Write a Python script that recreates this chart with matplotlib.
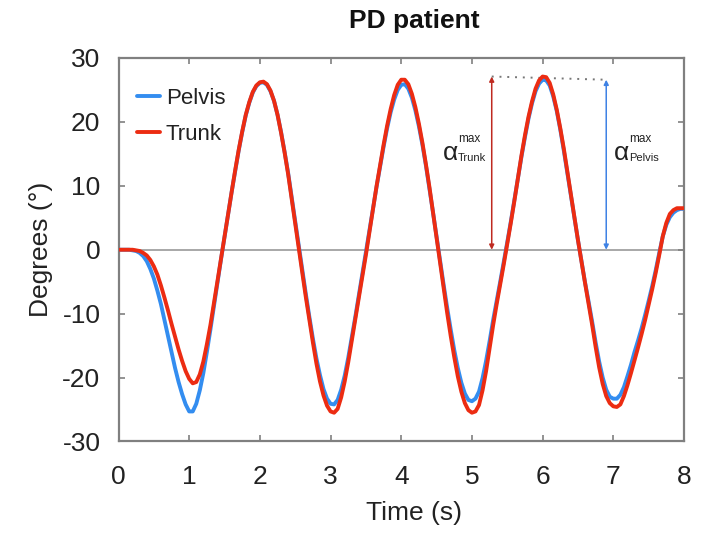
import numpy as np
import matplotlib
matplotlib.use("Agg")
import matplotlib.pyplot as plt

plt.rcParams['font.family'] = ['Liberation Sans', 'DejaVu Sans']

# Sampling grid (s)
time_s = np.linspace(0, 8, 161)

# Rotation angles (degrees) sampled every 0.05 s
pelvis_deg = [
    0.0, 0.0, 0.0, 0.0, -0.1, -0.2, -0.5, -1.0, -1.8, -3.0,
    -4.5, -6.4, -8.5, -11.0, -13.5, -16.0, -18.5, -20.7, -22.6, -24.2,
    -25.3, -25.3, -24.1, -22.0, -19.3, -16.0, -12.5, -8.8, -5.0, -1.5,
    2.0, 5.5, 9.0, 12.3, 15.5, 18.4, 21.0, 23.0, 24.6, 25.6,
    26.1, 26.2, 25.8, 24.8, 23.3, 21.1, 18.4, 15.3, 12.0, 8.2,
    4.3, 0.5, -3.2, -6.9, -10.5, -13.9, -17.0, -19.6, -21.8, -23.3,
    -24.1, -24.2, -23.5, -21.9, -19.7, -16.9, -13.7, -10.5, -7.1, -3.8,
    -0.4, 3.0, 6.5, 9.8, 13.0, 16.1, 19.0, 21.5, 23.5, 25.0,
    25.8, 25.9, 25.2, 23.8, 21.8, 19.3, 16.4, 13.1, 9.5, 5.8,
    2.0, -1.8, -5.5, -9.1, -12.5, -15.7, -18.5, -20.8, -22.5, -23.5,
    -23.7, -23.3, -22.2, -20.1, -17.4, -14.3, -11.0, -8.0, -5.0, -1.9,
    1.2, 4.4, 7.8, 11.2, 14.5, 17.6, 20.5, 22.9, 24.8, 26.0,
    26.6, 26.5, 25.7, 24.0, 21.7, 18.8, 15.5, 12.0, 8.5, 5.0,
    1.5, -1.8, -5.1, -8.1, -11.2, -14.5, -17.5, -20.0, -21.9, -23.0,
    -23.3, -23.3, -22.7, -21.5, -19.8, -18.0, -16.0, -14.2, -12.3, -10.2,
    -8.0, -5.7, -3.2, -0.5, 2.1, 3.9, 5.1, 5.8, 6.2, 6.4,
    6.4,
]
trunk_deg = [
    0.0, 0.0, 0.0, 0.0, 0.0, -0.1, -0.2, -0.5, -0.9, -1.6,
    -2.6, -3.9, -5.6, -7.5, -9.5, -11.6, -13.6, -15.6, -17.4, -19.0,
    -20.2, -20.9, -20.7, -19.5, -17.5, -14.8, -11.8, -8.4, -4.9, -1.4,
    2.0, 5.5, 9.0, 12.4, 15.6, 18.5, 21.1, 23.1, 24.7, 25.7,
    26.2, 26.3, 25.9, 24.9, 23.3, 21.1, 18.3, 15.2, 11.8, 8.0,
    4.1, 0.2, -3.6, -7.4, -11.0, -14.5, -17.8, -20.6, -22.8, -24.4,
    -25.3, -25.5, -24.9, -23.1, -20.6, -17.6, -14.2, -10.9, -7.5, -4.2,
    -0.8, 2.8, 6.4, 9.9, 13.2, 16.4, 19.4, 22.0, 24.2, 25.8,
    26.6, 26.6, 25.9, 24.4, 22.3, 19.7, 16.7, 13.3, 9.7, 5.8,
    1.9, -2.1, -6.0, -9.9, -13.5, -16.8, -19.8, -22.2, -24.0, -25.1,
    -25.5, -25.3, -24.3, -22.0, -19.0, -15.4, -11.8, -8.5, -5.4, -2.3,
    0.9, 4.2, 7.6, 11.2, 14.7, 17.9, 20.8, 23.2, 25.2, 26.5,
    27.1, 27.0, 26.1, 24.3, 21.9, 19.0, 15.8, 12.2, 8.6, 5.0,
    1.5, -1.9, -5.2, -8.4, -11.7, -15.2, -18.4, -21.0, -22.9, -24.0,
    -24.5, -24.6, -24.2, -22.9, -21.2, -19.3, -17.3, -15.3, -13.2, -11.0,
    -8.6, -6.2, -3.6, -0.8, 2.1, 4.2, 5.6, 6.2, 6.5, 6.5,
    6.5,
]

series_labels = ["Pelvis", "Trunk"]
x_ticks = [0, 1, 2, 3, 4, 5, 6, 7, 8]
y_ticks = [-30, -20, -10, 0, 10, 20, 30]

# Where the amplitude markers sit on the time axis
trunk_marker_t = 5.28
pelvis_marker_t = 6.9

blue = "#338df0"
red = "#ec2c12"
dark_red = "#bf2a20"
marker_blue = "#3f82e4"
frame_gray = "#808080"

fig = plt.figure(figsize=(7.05, 5.35), dpi=100)
ax = fig.add_axes([0.1681, 0.1748, 0.8021, 0.7168])

ax.axhline(0, color="#999999", lw=1.2, zorder=1)
ax.plot(time_s, pelvis_deg, color=blue, lw=2.8, label=series_labels[0],
        solid_joinstyle="round", solid_capstyle="round", zorder=3)
ax.plot(time_s, trunk_deg, color=red, lw=2.8, label=series_labels[1],
        solid_joinstyle="round", solid_capstyle="round", zorder=4)

trunk_max = max(trunk_deg)
pelvis_max = max(pelvis_deg)

# Double-headed amplitude arrows and the dotted link between their tops
ax.annotate("", xy=(trunk_marker_t, 0), xytext=(trunk_marker_t, trunk_max),
            arrowprops=dict(arrowstyle="<|-|>", color=dark_red, lw=1.1,
                            mutation_scale=7, shrinkA=0, shrinkB=0), zorder=2)
ax.annotate("", xy=(pelvis_marker_t, 0), xytext=(pelvis_marker_t, pelvis_max),
            arrowprops=dict(arrowstyle="<|-|>", color=marker_blue, lw=1.1,
                            mutation_scale=7, shrinkA=0, shrinkB=0), zorder=2)
ax.plot([trunk_marker_t, pelvis_marker_t], [trunk_max, pelvis_max],
        color="#777777", lw=1.4, ls=(0, (1, 3)), zorder=2)

# Amplitude labels
for tx, sub in [(4.59, "Trunk"), (7.01, "Pelvis")]:
    ax.text(tx, 14.0, "\u03b1", fontsize=19, color="#222222",
            ha="left", va="baseline")
    ax.text(tx + 0.215, 16.8, "max", fontsize=8.5, color="#222222",
            ha="left", va="baseline")
    ax.text(tx + 0.215, 13.9, sub, fontsize=8, color="#222222",
            ha="left", va="baseline")

ax.set_xlim(0, 8)
ax.set_ylim(-30, 30)
ax.set_xticks(x_ticks)
ax.set_yticks(y_ticks)
ax.set_xticklabels([str(v) for v in x_ticks])
ax.set_yticklabels([str(v) for v in y_ticks])

for side in ["left", "right", "top", "bottom"]:
    ax.spines[side].set_color(frame_gray)
    ax.spines[side].set_linewidth(1.6)

ax.tick_params(axis="both", direction="in", length=4, width=1.2,
               color=frame_gray, labelcolor="#222222", labelsize=19,
               top=True, right=True)
ax.tick_params(axis="x", pad=17)
ax.tick_params(axis="y", pad=13)

ax.set_xlabel("Time (s)", fontsize=19, color="#222222")
ax.set_ylabel("Degrees (\u00b0)", fontsize=19, color="#222222")
ax.xaxis.set_label_coords(0.5225, -0.155)
ax.yaxis.set_label_coords(-0.116, 0.5)

ax.set_title("PD patient", fontsize=19, fontweight="bold", color="#111111",
             x=0.5225, y=1.0788, pad=0)

leg = ax.legend(loc="upper left", bbox_to_anchor=(0.0327, 0.922),
                frameon=False, fontsize=16, handlelength=1.05,
                handletextpad=0.25, labelspacing=0.68, borderaxespad=0,
                borderpad=0)
for line in leg.get_lines():
    line.set_linewidth(2.8)
for txt in leg.get_texts():
    txt.set_color("#222222")

fig.savefig("out.png", dpi=100)
